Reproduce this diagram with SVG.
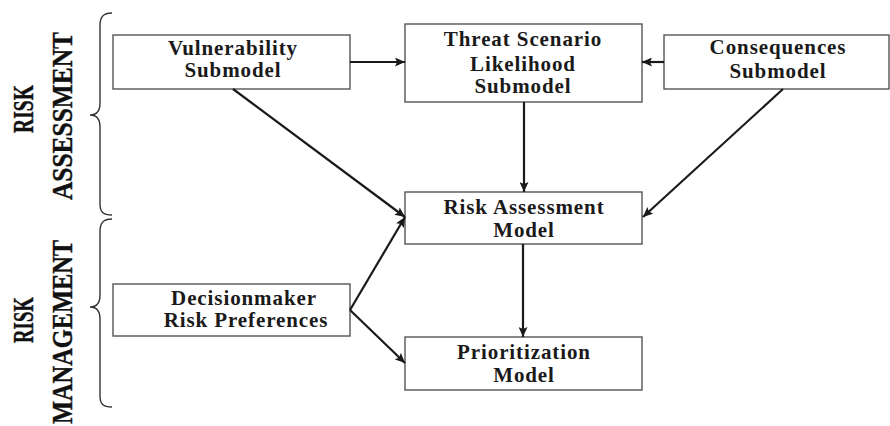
<svg xmlns="http://www.w3.org/2000/svg" width="890" height="426" viewBox="0 0 890 426">
<style>
.box{fill:#fff;stroke:#555;stroke-width:1.4}
.t{font-family:"Liberation Serif","Times New Roman",serif;font-weight:bold;font-size:21px;fill:#1a1a1a;text-anchor:middle;letter-spacing:0.9px}
.side{font-family:"Liberation Serif","Times New Roman",serif;font-weight:bold;font-size:30px;fill:#111;text-anchor:middle;stroke:#111;stroke-width:0.4}
.c{stroke:#1a1a1a;stroke-width:2.2;fill:none;marker-end:url(#ah)}
.brace{stroke:#333;stroke-width:1.4;fill:none}
</style>
<defs>
<marker id="ah" markerUnits="userSpaceOnUse" markerWidth="11" markerHeight="9" refX="10" refY="4.5" orient="auto">
<path d="M0,0 L10,4.5 L0,9 L2,4.5 z" fill="#1a1a1a"/>
</marker>
</defs>
<rect width="890" height="426" fill="#fff"/>
<g id="labels">
<text class="side" transform="translate(33,109) rotate(-90)" textLength="48" lengthAdjust="spacingAndGlyphs">RISK</text>
<text class="side" transform="translate(72,116) rotate(-90)" textLength="168" lengthAdjust="spacingAndGlyphs">ASSESSMENT</text>
<text class="side" transform="translate(33,320) rotate(-90)" textLength="46" lengthAdjust="spacingAndGlyphs">RISK</text>
<text class="side" transform="translate(72,332) rotate(-90)" textLength="184" lengthAdjust="spacingAndGlyphs">MANAGEMENT</text>
</g>
<g id="braces">
<path class="brace" d="M112,13 C103,13 100,17 100,26 L100,103 C100,111 97,115 90,115 C97,115 100,119 100,127 L100,204 C100,212 103,215 112,215"/>
<path class="brace" d="M112,219 C103,219 100,223 100,232 L100,295 C100,303 97,307 90,307 C97,307 100,311 100,319 L100,396 C100,404 103,407 112,407"/>
</g>
<g id="vulnerability">
<rect class="box" x="113" y="35" width="237" height="54"/>
<text class="t" x="233" y="55">Vulnerability</text>
<text class="t" x="233" y="77">Submodel</text>
</g>
<g id="threat">
<rect class="box" x="405" y="24" width="237" height="78"/>
<text class="t" x="523" y="46">Threat Scenario</text>
<text class="t" x="523" y="71">Likelihood</text>
<text class="t" x="523" y="93">Submodel</text>
</g>
<g id="consequences">
<rect class="box" x="664" y="35" width="225" height="54"/>
<text class="t" x="778" y="54">Consequences</text>
<text class="t" x="778" y="78">Submodel</text>
</g>
<g id="riskassessment">
<rect class="box" x="405" y="192" width="237" height="52"/>
<text class="t" x="524" y="214">Risk Assessment</text>
<text class="t" x="524" y="237">Model</text>
</g>
<g id="decisionmaker">
<rect class="box" x="113" y="284" width="237" height="52"/>
<text class="t" x="244" y="305">Decisionmaker</text>
<text class="t" x="246" y="327">Risk Preferences</text>
</g>
<g id="prioritization">
<rect class="box" x="405" y="337" width="237" height="53"/>
<text class="t" x="524" y="359">Prioritization</text>
<text class="t" x="524" y="382">Model</text>
</g>
<g id="connectors">
<line class="c" x1="350" y1="62" x2="405" y2="62"/>
<line class="c" x1="664" y1="62" x2="642" y2="62"/>
<line class="c" x1="524" y1="102" x2="524" y2="192"/>
<line class="c" x1="233" y1="89" x2="405" y2="217"/>
<line class="c" x1="783" y1="89" x2="643" y2="217"/>
<line class="c" x1="523" y1="244" x2="523" y2="337"/>
<line class="c" x1="350" y1="310" x2="405" y2="217"/>
<line class="c" x1="350" y1="310" x2="405" y2="363"/>
</g>
</svg>
